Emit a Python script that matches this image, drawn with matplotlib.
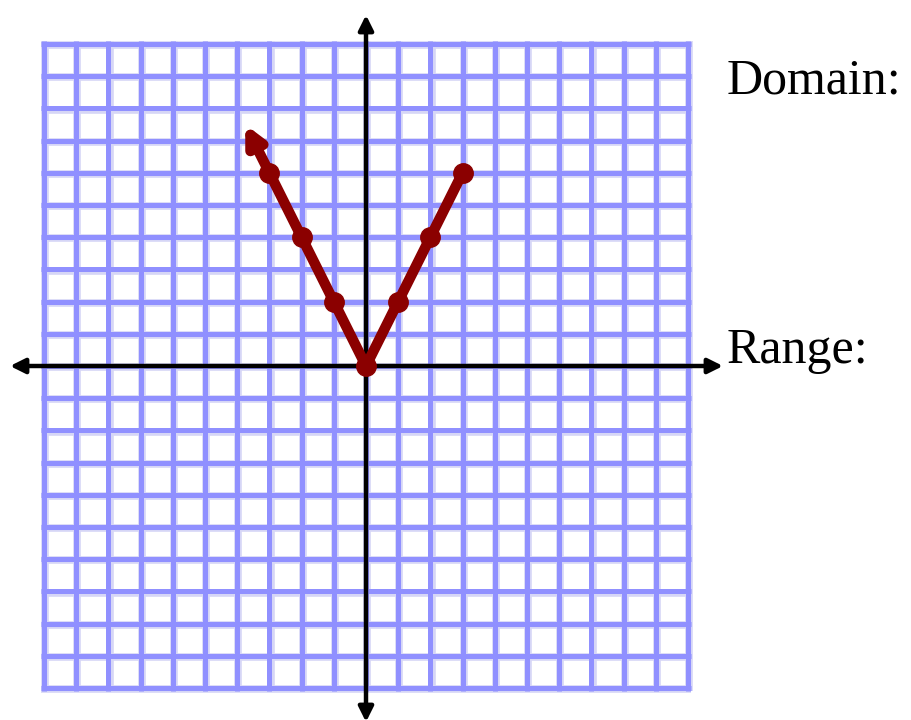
import matplotlib
matplotlib.use("Agg")
import matplotlib.pyplot as plt

# data
x_vals = [-3, -2, -1, 0, 1, 2, 3]
y_vals = [6, 4, 2, 0, 2, 4, 6]
arrow_tip = (-3.75, 7.5)
grid_min, grid_max = -10, 10
labels = ["Domain:", "Range:"]

UNIT = 32.2
OX, OY = 366, 366
W, H = 911, 720

fig = plt.figure(figsize=(W / 100, H / 100), dpi=100)
ax = fig.add_axes([0, 0, 1, 1])
ax.set_xlim(-OX / UNIT, (W - OX) / UNIT)
ax.set_ylim(-(H - OY) / UNIT, OY / UNIT)
ax.axis("off")

# grid
for v in range(grid_min, grid_max + 1):
    ax.plot([v + 0.04, v + 0.04], [grid_min - 0.1, grid_max + 0.1], color="#d6d6f6", lw=5.5, solid_capstyle="butt", zorder=1)
    ax.plot([grid_min - 0.1, grid_max + 0.1], [v - 0.04, v - 0.04], color="#d6d6f6", lw=5.5, solid_capstyle="butt", zorder=1)
for v in range(grid_min, grid_max + 1):
    ax.plot([v, v], [grid_min - 0.1, grid_max + 0.1], color="#9090ff", lw=3.6, solid_capstyle="butt", zorder=2)
    ax.plot([grid_min - 0.1, grid_max + 0.1], [v, v], color="#9090ff", lw=3.6, solid_capstyle="butt", zorder=2)

# axes with arrows
ax.annotate("", xy=((723 - OX) / UNIT, 0), xytext=((10 - OX) / UNIT, 0),
            arrowprops=dict(arrowstyle="<|-|>", lw=3.2, color="black", mutation_scale=22,
                            shrinkA=0, shrinkB=0), zorder=3)
ax.annotate("", xy=(0, (OY - 15) / UNIT), xytext=(0, (OY - 722) / UNIT),
            arrowprops=dict(arrowstyle="<|-|>", lw=3.2, color="black", mutation_scale=22,
                            shrinkA=0, shrinkB=0), zorder=3)

# function
red = "#8b0000"
ax.plot(x_vals, y_vals, color=red, lw=7.5, marker="o", markersize=14, zorder=4,
        solid_capstyle="round", solid_joinstyle="round")
ax.annotate("", xy=arrow_tip, xytext=(x_vals[0], y_vals[0]),
            arrowprops=dict(arrowstyle="-|>", lw=7.5, color=red, mutation_scale=26,
                            shrinkA=0, shrinkB=0), zorder=4)

# labels
ax.text((727 - OX) / UNIT, (OY - 93) / UNIT, labels[0], family="Liberation Serif",
        fontsize=36, va="baseline", ha="left")
ax.text((727 - OX) / UNIT, (OY - 363) / UNIT, labels[1], family="Liberation Serif",
        fontsize=36, va="baseline", ha="left")

fig.savefig("out.png", dpi=100)
